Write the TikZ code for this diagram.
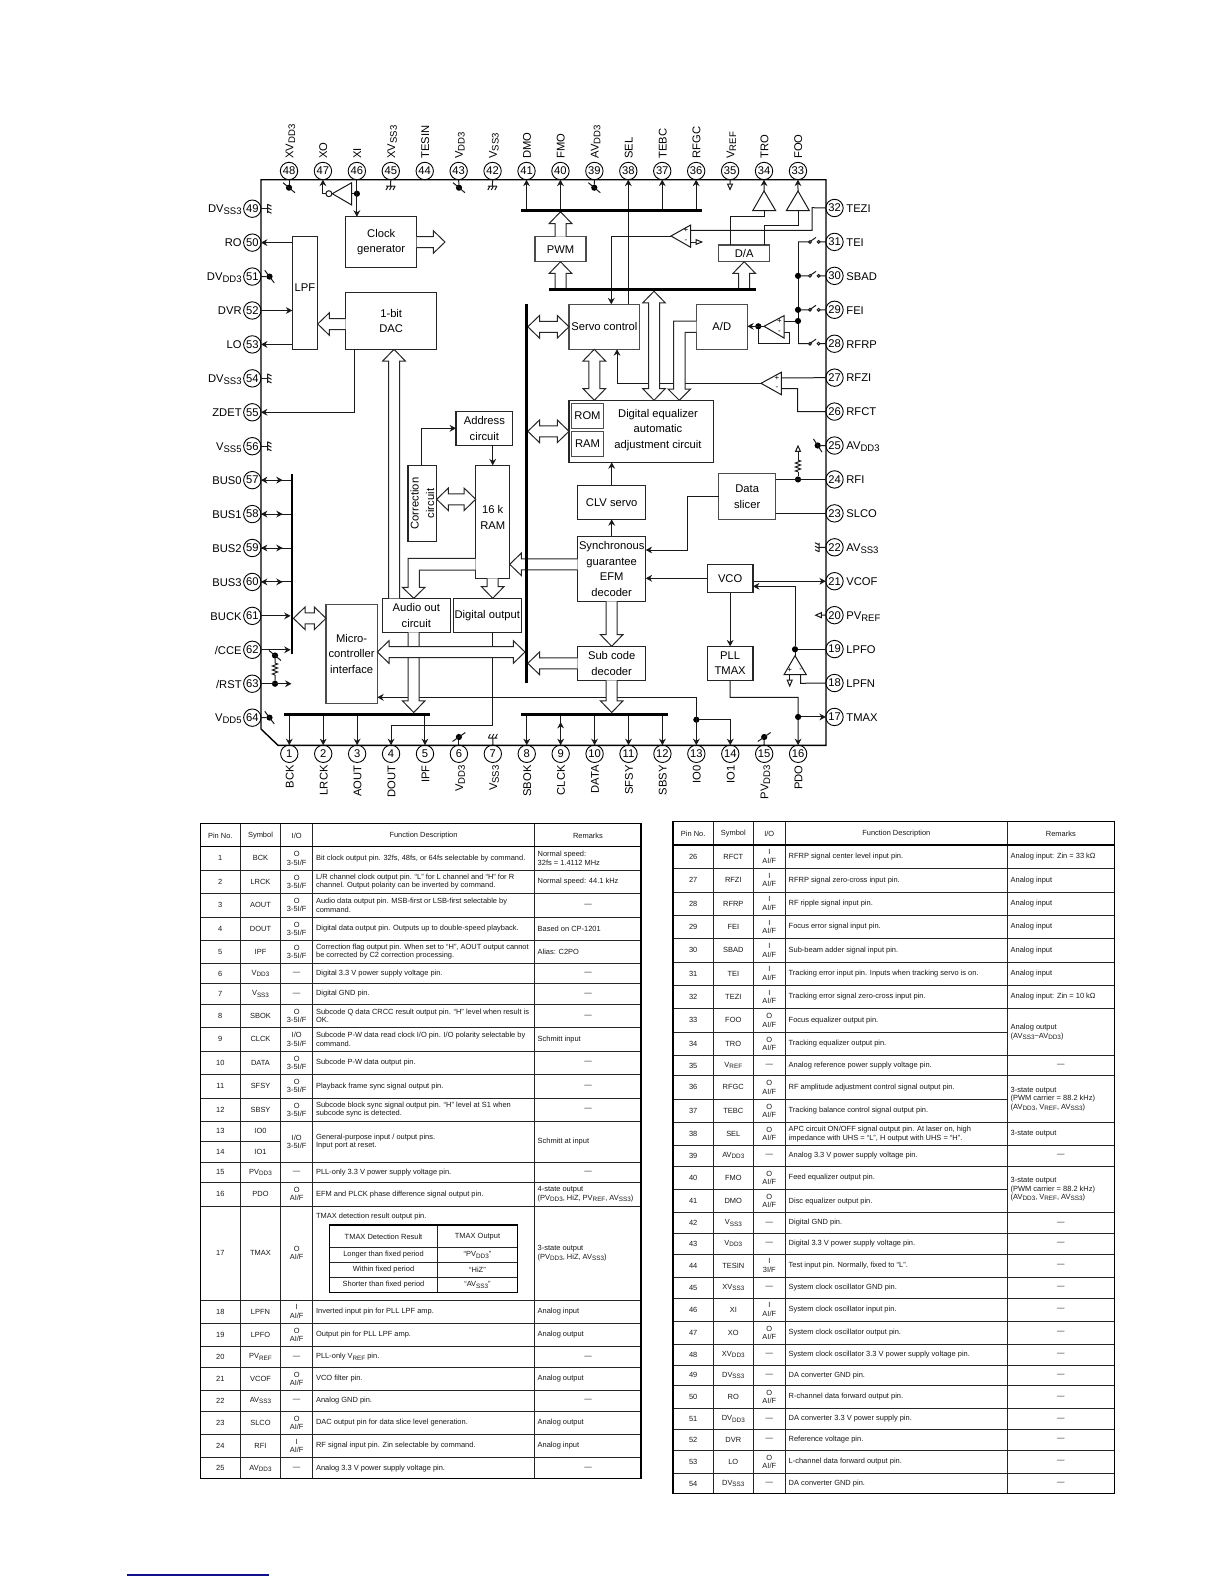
\documentclass[tikz,border=0pt]{standalone}
\usepackage{fontspec}
\setmainfont{Liberation Sans}
\usetikzlibrary{arrows.meta,calc}
\pgfdeclarelayer{fg}
\pgfsetlayers{main,fg}
\newcommand\blkf{\fontsize{5.6}{7.75}\selectfont}
\newcommand\tabf{\fontsize{3.73}{4.2}\selectfont}
\newcommand\sbs[1]{\raisebox{-0.3ex}{\scalebox{.85}{#1}}}
\def\fw{2.75pt}\def\fh{5.65pt}\def\fl{5.85pt}
\tikzset{
 >={Stealth[length=3.2pt,width=3.4pt]},
 wire/.style={line width=.5pt,black!90},
 blk/.style={draw=black!85,line width=.55pt,fill=white,inner sep=0pt,outer sep=0pt,align=center,font=\blkf},
 busn/.style={fill=black,inner sep=0pt,outer sep=0pt},
 fat/.style={draw=black!85,line width=.5pt,fill=white},
 pin/.style={draw,circle,line width=.45pt,inner sep=0pt,outer sep=0pt,minimum size=8.7pt,font=\blkf,fill=white},
 lab/.style={inner sep=0pt,font=\blkf},
 jn/.style={circle,fill=black,inner sep=0pt,outer sep=0pt,minimum size=3.1pt},
 sgn/.style={inner sep=0pt,font=\fontsize{4}{4}\selectfont},
 tgrid/.style={line width=.5pt,black!85},
 tc/.style={inner sep=0pt,font=\tabf,align=center,text=black!90},
 tl/.style={inner sep=0pt,font=\tabf,align=left,anchor=west,text=black!90},
}
\newcommand\blk[7][]{\node[blk,minimum width={(#5-#3)*0.5pt},minimum height={(#6-#4)*0.5pt},#1] (#2) at ({(#3+#5)/2},{(#4+#6)/2}) {#7};}
\newcommand\bus[5]{\node[busn,minimum width={(#4-#2)*0.5pt},minimum height={(#5-#3)*0.5pt}] (#1) at ({(#2+#4)/2},{(#3+#5)/2}) {};}
\newcommand\fatS[2]{\draw[fat] let \p1=(#1),\p2=(#2),\n1={atan2(\y2-\y1,\x2-\x1)} in
 ($(\p1)+(\n1+90:\fw)$) -- ($(\p2)+(\n1+180:\fl)+(\n1+90:\fw)$) -- ($(\p2)+(\n1+180:\fl)+(\n1+90:\fh)$) -- (\p2)
 -- ($(\p2)+(\n1+180:\fl)+(\n1-90:\fh)$) -- ($(\p2)+(\n1+180:\fl)+(\n1-90:\fw)$) -- ($(\p1)+(\n1-90:\fw)$);}
\newcommand\fatD[2]{\draw[fat] let \p1=(#1),\p2=(#2),\n1={atan2(\y2-\y1,\x2-\x1)} in
 (\p1) -- ($(\p1)+(\n1:\fl)+(\n1+90:\fh)$) -- ($(\p1)+(\n1:\fl)+(\n1+90:\fw)$)
 -- ($(\p2)+(\n1+180:\fl)+(\n1+90:\fw)$) -- ($(\p2)+(\n1+180:\fl)+(\n1+90:\fh)$) -- (\p2)
 -- ($(\p2)+(\n1+180:\fl)+(\n1-90:\fh)$) -- ($(\p2)+(\n1+180:\fl)+(\n1-90:\fw)$)
 -- ($(\p1)+(\n1:\fl)+(\n1-90:\fw)$) -- ($(\p1)+(\n1:\fl)+(\n1-90:\fh)$) -- cycle;}
\newcommand\pwr[4]{\node[jn] (#1) at (#2,#3) {}; \draw[wire] (#1)+(#4:3.9pt) -- +(#4+180:3.9pt);}
\newcommand\gndm[3]{\begin{scope}[shift={(#1,#2)},rotate=#3]
 \draw[wire] (-4.5,0) -- (4.5,0) (-2.5,0) -- (-4.5,4) (1,0) -- (-1,4) (4.5,0) -- (2.5,4);\end{scope}}
\newcommand\resv[3]{\draw[wire] (#1,#2) -- ++(2.6,1) -- ++(-5.2,2) -- ++(5.2,2) -- ++(-5.2,2) -- ++(5.2,2) -- ++(-5.2,2) -- (#1,#3);}
\newcommand\swt[1]{\draw[wire] (p#1 -| 798,0) -- (p#1 -| 809,0) (p#1 -| 809.5,0) -- ++(6.5,-4.5) (p#1 -| 819.6,0) -- (p#1.west);
 \draw[wire,fill=white] (p#1 -| 810,0) circle (.7pt) (p#1 -| 818.6,0) circle (.7pt);}
\newcommand\tr[7]{\def\ya{#1}\def\yb{#2}\def\pn{#3}
 \node[tc] (n#3) at ({\tcn},{(#1+#2)/2}) {#3};
 \node[tc] (s#3) at ({\tcs},{(#1+#2)/2}) {#4};
 \node[tc] (i#3) at ({\tci},{(#1+#2)/2}) {#5};
 \node[tl] (f#3) at ({\tcf},{(#1+#2)/2}) {#6};
 #7}
\newcommand\rl[1]{\node[tl] (r\pn) at ({\tcr},{(\ya+\yb)/2}) {#1};}
\newcommand\rd{\node[tc] (r\pn) at ({\tcd},{(\ya+\yb)/2}) {—};}
\newcommand\rmrg[4]{\node[tl] (#1) at ({\tcr},{(#2+#3)/2}) {#4};}
\def\IOa{O\\3-5I/F}
\def\IOb{O\\AI/F}
\def\IOc{I\\AI/F}
\begin{document}
\begin{tikzpicture}[x=.5pt,y=-.5pt]
\useasboundingbox (0,0) rectangle (1224,1584);
\fill[white] (0,0) rectangle (1224,1584);

%% ---------- pins ----------
\foreach \n/\t in {48/XV\sbs{DD3},47/XO,46/XI,45/XV\sbs{SS3},44/TESIN,43/V\sbs{DD3},42/V\sbs{SS3},41/DMO,40/FMO,39/AV\sbs{DD3},38/SEL,37/TEBC,36/RFGC,35/V\sbs{REF},34/TRO,33/FOO}{
 \node[pin] (p\n) at ({289+33.93*(48-\n)},171) {\n};
 \node[lab,rotate=90,anchor=mid west] (l\n) at ({288+33.93*(48-\n)},159) {\t};
}
\foreach \n/\t in {49/DV\sbs{SS3},50/RO,51/DV\sbs{DD3},52/DVR,53/LO,54/DV\sbs{SS3},55/ZDET,56/V\sbs{SS5},57/BUS0,58/BUS1,59/BUS2,60/BUS3,61/BUCK,62/{/CCE},63/{/RST},64/V\sbs{DD5}}{
 \node[pin] (p\n) at (252.3,{208.7+33.93*(\n-49)}) {\n};
 \node[lab,anchor=mid east] (l\n) at (242,{207.7+33.93*(\n-49)}) {\t};
}
\foreach \n/\t in {32/TEZI,31/TEI,30/SBAD,29/FEI,28/RFRP,27/RFZI,26/RFCT,25/AV\sbs{DD3},24/RFI,23/SLCO,22/AV\sbs{SS3},21/VCOF,20/PV\sbs{REF},19/LPFO,18/LPFN,17/TMAX}{
 \node[pin] (p\n) at (834.5,{208+33.93*(32-\n)}) {\n};
 \node[lab,anchor=mid west] (l\n) at (846,{207+33.93*(32-\n)}) {\t};
}
\foreach \n/\t in {1/BCK,2/LRCK,3/AOUT,4/DOUT,5/IPF,6/V\sbs{DD3},7/V\sbs{SS3},8/SBOK,9/CLCK,10/DATA,11/SFSY,12/SBSY,13/IO0,14/IO1,15/PV\sbs{DD3},16/PDO}{
 \node[pin] (p\n) at ({289.3+33.92*(\n-1)},753.8) {\n};
 \node[lab,rotate=90,anchor=mid east] (l\n) at ({288.3+33.92*(\n-1)},765) {\t};
}
\draw[line width=.7pt] (278,745.3) -- (826,745.3) -- (826,179.7) -- (261,179.7) -- (261,729) -- cycle;

%% ---------- blocks ----------
\blk{clk}{345.7}{216.7}{416.7}{267.3}{Clock\\generator}
\blk{lpf}{292.3}{236.3}{317.7}{349.3}{}
\node[lab] (lpft) at (305,287.7) {LPF};
\blk{dac}{345.7}{292.7}{436.7}{349.3}{1-bit\\DAC}
\blk{addr}{456}{411.7}{512.7}{445.3}{Address\\circuit}
\blk{corr}{408}{465.3}{436.7}{541.7}{}
\node[lab,rotate=90,align=center] (corrt) at (422.3,503.5) {Correction\\circuit};
\blk{ram}{475.7}{465.3}{509.7}{578.3}{}
\node[lab,align=center] (ramt) at (492.7,517.3) {16 k\\RAM};
\blk{aud}{382.3}{598.3}{450.3}{632.3}{Audio out\\circuit}
\blk{dig}{453.3}{598.3}{521.3}{632.3}{Digital output}
\blk[draw=black!70]{mic}{326}{604.3}{377.3}{703.3}{Micro-\\controller\\interface}
\blk[draw=black!70]{pwm}{535}{236.7}{586}{261.7}{PWM}
\blk[draw=black!70]{da}{718.7}{245}{769.7}{261.7}{D/A}
\blk[draw=black!70]{servo}{569}{304.3}{639.7}{349.3}{Servo control}
\blk[draw=black!70]{ad}{696.3}{304.3}{747.3}{349.3}{A/D}
\blk{eq}{569}{400.3}{713.3}{462.3}{}
\blk[draw=black!70,line width=.7pt]{rom}{571.7}{403.3}{603.3}{428.3}{ROM}
\blk[draw=black!70,line width=.7pt]{rm}{571.7}{431.3}{603.3}{456.7}{RAM}
\node[lab,align=center] (eqt) at (658,430) {Digital equalizer\\automatic\\adjustment circuit};
\blk{clv}{577.7}{485.3}{645.7}{519.3}{CLV servo}
\blk{sync}{577.7}{536.3}{645.7}{601.3}{Synchronous\\guarantee\\EFM\\decoder}
\blk{sub}{577.7}{646.3}{645.7}{680.3}{Sub code\\decoder}
\blk[draw=black!70]{slicer}{718.7}{473.7}{775.7}{519.3}{Data\\slicer}
\blk{vco}{707.3}{564.3}{753}{592.7}{VCO}
\blk{pll}{707.3}{646.3}{753}{680.3}{PLL\\TMAX}

%% ---------- buses (top layer) ----------
\begin{pgfonlayer}{fg}
\bus{mbus}{525}{304.3}{527.8}{683}
\bus{lbus}{290.6}{474}{293.4}{654.3}
\bus{tbus}{521}{208.8}{702}{211.8}
\bus{sbus}{549.3}{288.2}{755.7}{291.2}
\bus{bl}{284}{712.5}{430.3}{715.5}
\bus{br}{521}{712.5}{667.7}{715.5}
\end{pgfonlayer}

%% ---------- amplifiers ----------
\coordinate (a1t) at (671,236);
\draw[wire] (a1t) -- (690.7,225) -- (690.7,247.3) -- cycle;
\node[sgn] (a1p) at (686,230.5) {+};
\node[sgn] (a1m) at (686,241.5) {-};
\coordinate (a2t) at (764,326.3);
\draw[wire] (a2t) -- (784,315.7) -- (784,338) -- cycle;
\node[sgn] (a2p) at (779.5,321) {+};
\node[sgn] (a2m) at (779.5,332) {-};
\coordinate (a3t) at (761,383.3);
\draw[wire] (a3t) -- (781.3,372.3) -- (781.3,394.7) -- cycle;
\node[sgn] (a3p) at (777,378) {+};
\node[sgn] (a3m) at (777,388.7) {-};
\coordinate (a4t) at (795,655.7);
\draw[wire] (a4t) -- (784,674.7) -- (806.3,674.7) -- cycle;
\node[sgn] (a4p) at (789.7,670) {+};
\node[sgn] (a4m) at (800.7,670) {-};
\coordinate (tro) at (764,191); \coordinate (foo) at (798,191);
\coordinate (trob) at (764,210.7); \coordinate (foob) at (798,210.7);
\draw[wire] (tro) -- (752.7,210.7) -- (775.7,210.7) -- cycle;
\draw[wire] (foo) -- (786.3,210.7) -- (809.3,210.7) -- cycle;

%% ---------- power / ground / reference symbols ----------
\pwr{pw48}{289}{187.7}{140}  \draw[wire] (p48.south) -- (pw48);
\pwr{pw43}{459}{187.7}{140}  \draw[wire] (p43.south) -- (pw43);
\pwr{pw39}{594.3}{187.7}{140}\draw[wire] (p39.south) -- (pw39);
\pwr{pw51}{269.5}{276.6}{127}\draw[wire] (p51.east) -- (pw51);
\pwr{pw64}{269.5}{717.6}{127}\draw[wire] (p64.east) -- (pw64);
\pwr{pw25}{817.7}{445.5}{123}\draw[wire] (p25.west) -- (pw25);
\pwr{pw6}{458.9}{737}{35}    \draw[wire] (p6.north) -- (pw6);
\pwr{pw15}{764.2}{737}{35}   \draw[wire] (p15.north) -- (pw15);
\coordinate (g45) at (390.6,186); \draw[wire] (p45.south) -- (g45); \gndm{390.6}{186}{0}
\coordinate (g42) at (492.4,186); \draw[wire] (p42.south) -- (g42); \gndm{492.4}{186}{0}
\coordinate (g7)  at (492.8,738); \draw[wire] (p7.north) -- (g7);   \gndm{492.8}{738}{180}
\foreach \n in {49,54,56}{\coordinate (g\n) at (p\n -| 267.5,0); \draw[wire] (p\n.east) -- (g\n);
 \begin{scope}[shift={(g\n)},rotate=90]\draw[wire] (-4.5,0) -- (4.5,0) (-2.5,0) -- (-4.5,4) (1,0) -- (-1,4) (4.5,0) -- (2.5,4);\end{scope}}
\coordinate (g22) at (819,547.3); \draw[wire] (p22.west) -- (g22); \gndm{819}{547.3}{-90}
% hollow reference triangles
\draw[wire] (p35.south) -- (730,184); \draw[wire] (727.5,184) -- (732.5,184) -- (730,189.5) -- cycle;
\draw[wire] (p20.west) -- (821.3,615.2); \draw[wire] (821.3,612.7) -- (821.3,617.7) -- (815.7,615.2) -- cycle;

%% ---------- thin connectors ----------
% clock / inverter
\node[jn] (dxi) at (356.9,193.7) {};
\draw[wire,->] (p46.south) -- (p46 |- clk.north);
\draw[wire,fill=white] (351.7,182.7) -- (351.7,205) -- (332.3,193.7) -- cycle;
\draw[wire] (351.7,193.7) -- (dxi);
\draw[wire,fill=white] (328.9,193.7) circle (1.5pt);
\draw[wire,->] (325.9,193.7) -- (p47 |- 0,193.7) -- (p47.south);
% LPF
\draw[wire,->] (lpf.west |- p50) -- (p50.east);
\draw[wire,->] (p52.east) -- (lpf.west |- p52);
\draw[wire,->] (lpf.west |- p53) -- (p53.east);
\draw[wire,->] (dac.south -| 354.3,0) -- (p55 -| 354.3,0) -- (p55.east);
% left bus
\foreach \n in {57,58,59,60}{
 \draw[wire,->] (p\n -| lbus) -- (p\n.east);
 \draw[wire,->] (p\n.east) -- (p\n -| 282.7,0);
}
\draw[wire,->] (p61.east) -- (p61 -| lbus.west);
\draw[wire,->] (p62.east) -- (p62 -| lbus.west);
\node[jn] (dr1) at (275,655.5) {};
\node[jn] (dr2) at (p63 -| 275,0) {};
\draw[wire,->] (p63.east) -- (p63 -| 291.5,0);
\resv{275}{663}{675}
\draw[wire] (dr1) -- (275,663) (275,675) -- (dr2) (dr1)+(140:3.9pt) -- +(-40:3.9pt);
% address / ram
\draw[wire,->] (addr.south -| ram) -- (ram.north);
\draw[wire,->] (corr.north -| 421.7,0) -- (421.7,428.3) -- (addr.west |- 0,428.3);
% servo amplifier top-side
\draw[wire,->] (a1t) -- (611.3,236) -- (servo.north -| 611.3,0);
\draw[wire,->] (servo.north -| p38) -- (p38.south);
\draw[wire] (690.7,230.3) -- (812,230.3) -- (812,207.7) -- (p32.west);
\draw[wire] (690.7,242) -- (696,242);
\draw[wire] (696,239.6) -- (696,244.4) -- (701.8,242) -- cycle;
\foreach \n in {41,40,37,36}{\draw[wire,->] (tbus -| p\n) -- (p\n.south);}
\draw[wire,->] (tro) -- (p34.south);
\draw[wire,->] (foo) -- (p33.south);
\draw[wire] (da.north -| 730,0) -- (730,216.7) -- (764,216.7) -- (trob);
\draw[wire] (da.north -| 764,0) -- (764,225) -- (798,225) -- (foob);
% switches
\swt{31}\swt{30}\swt{29}\swt{28}
\draw[wire] (p31 -| 798,0) -- (p28 -| 798,0);
\node[jn] (ds30) at (p30 -| 798,0) {};
\node[jn] (ds29) at (p29 -| 798,0) {};
\node[jn] (dsa) at (798,321) {};
\draw[wire] (784,321) -- (dsa);
\draw[wire] (784,332.3) -- (789.3,332.3) -- (789.3,343.7) -- (758.3,343.7) -- (758.3,326.3);
\node[jn] (dad) at (758.3,326.3) {};
\draw[wire,->] (a2t) -- (ad.east |- a2t);
% RFZI / RFCT amp
\draw[wire,->] (a3t) -- (617,383.3) -- (servo.south -| 617,0);
\draw[wire] (781.3,378) -- (p27.west);
\draw[wire] (781.3,388.7) -- (797.7,388.7) -- (797.7,411.7) -- (p26.west);
% CLV etc
\draw[wire,->] (sync.north -| clv) -- (clv.south);
\draw[wire,->] (clv.north) -- (eq.south -| clv);
\draw[wire,->] (slicer.west |- 0,496.3) -- (687.7,496.3) -- (687.7,550) -- (sync.east |- 0,550);
\node[jn] (drf) at (p24 -| 798,0) {};
\draw[wire] (slicer.east |- p24) -- (p24.west);
\draw[wire] (slicer.east |- p23) -- (p23.west);
\draw[wire] (drf) -- (798,471.7) (798,460) -- (798,451.3);
\resv{798}{460}{471.7}
\draw[wire] (795.6,451.3) -- (800.4,451.3) -- (798,446) -- cycle;
\draw[wire,->] (vco.west |- 0,578.3) -- (sync.east |- 0,578.3);
\draw[wire,->] (vco.east |- p21) -- (p21.west);
\node[jn] (dlp) at (795,649.3) {};
\draw[wire,->] (dlp) -- (795,586.3) -- (vco.east |- 0,586.3);
\draw[wire] (dlp) -- (p19.west |- dlp);
\draw[wire] (dlp) -- (a4t);
\draw[wire,->] (vco.south) -- (pll.north);
\draw[wire] (789.7,674.7) -- (789.7,680);
\draw[wire] (787.2,680) -- (792.2,680) -- (789.7,686) -- cycle;
\draw[wire] (800.7,674.7) -- (800.7,683.3) -- (p18.west);
\draw[wire,->] (pll.south) -- (730,697.3) -- (p16 |- 0,697.3) -- (p16.north);
\node[jn] (dtm) at (p16 |- p17) {};
\draw[wire,->] (dtm) -- (p17.west);
% bottom buses
\foreach \n in {1,2,3,5}{\draw[wire,->] (p\n |- bl) -- (p\n.north);}
\foreach \n in {8,10,11,12}{\draw[wire,->] (p\n |- br) -- (p\n.north);}
\draw[wire,->] (p9 |- br) -- (p9.north);
\draw[wire,->] (p9.north) -- (p9 |- 0,722);
% IO lines
\node[jn] (dio) at (p13 |- 0,719.7) {};
\draw[wire,->] (p13 |- 0,697.3) -- (p13.north);
\draw[wire,->] (dio) -- (p14 |- dio) -- (p14.north);
\draw[wire,->] (p13 |- 0,697.3) -- (mic.east |- 0,697.3);
% digital output to pin 4
\draw[wire,->] (dig.south -| 492.7,0) -- (492.7,725.7) -- (p4 |- 0,725.7) -- (p4.north);

%% ---------- hollow arrows ----------
\fatS{clk.east}{445,242}
\fatS{dac.west |- 0,324}{lpf.east |- 0,324}
\fatS{pwm.north}{pwm |- tbus.south}
\fatS{sbus.north -| pwm}{pwm.south}
\fatS{sbus.north -| da}{da.south}
\fatD{mbus.east |- servo}{servo.west}
\fatD{mbus.east |- 0,431.3}{eq.west |- 0,431.3}
\fatD{servo.south -| 594.3,0}{eq.north -| 594.3,0}
\fatD{sbus.south -| 654,0}{eq.north -| 654,0}
\draw[fat] (ad.west |- 0,321) -- (673.7,321) -- (673.7,389) -- (668,389) -- (679.3,400.3) -- (690.6,389) -- (685,389) -- (685,332.3) -- (ad.west |- 0,332.3);
\fatS{aud.north -| 394,0}{dac.south -| 394,0}
\fatD{corr.east |- 0,499.3}{ram.west |- 0,499.3}
\draw[fat] (ram.west |- 0,558.3) -- (408,558.3) -- (408,587.3) -- (402.4,587.3) -- (413.7,598.3) -- (425,587.3) -- (419.3,587.3) -- (419.3,570) -- (ram.west |- 0,570);
\fatS{ram.south}{ram |- dig.north}
\fatS{sync.west |- 0,564.3}{ram.east |- 0,564.3}
\fatS{aud.south -| 413.7,0}{bl.north -| 413.7,0}
\fatD{mic.east |- 0,652}{mbus.west |- 0,652}
\fatD{lbus.east |- 0,618.3}{mic.west |- 0,618.3}
\fatS{sync.south}{sub.north}
\fatS{sub.west |- 0,663.3}{mbus.east |- 0,663.3}
\fatS{sub.south}{sub |- br.north}

%% ---------- left table ----------
\foreach \y in {823.3,846.7,870,893.3,917,940.3,963.3,983.7,1004.3,1027.7,1051,1074.3,1098,1121.3,1162.3,1182.3,1206,1300,1323.3,1346.7,1367.3,1390.7,1411,1434.3,1457.7,1478.7}{
 \draw[tgrid] (200.3,\y) -- (641,\y);}
\draw[tgrid] (200.3,1141.3) -- (280.7,1141.3);
\foreach \x in {200.3,240.3,280.7,312.7,534.3,641}{\draw[tgrid] (\x,823.3) -- (\x,1478.7);}
\draw[line width=.6pt] (200.3,823.3) rectangle (641,1478.7);
\draw[line width=.6pt] (200.3,846.7) -- (641,846.7);
\def\tcn{220.3}\def\tcs{260.5}\def\tci{296.7}\def\tcf{315.7}\def\tcr{537.3}\def\tcd{588}
\node[tc] (hL1) at (220.3,835.5) {Pin No.};
\node[tc] (hL2) at (260.5,835.5) {Symbol};
\node[tc] (hL3) at (296.7,835.5) {I/O};
\node[tc] (hL4) at (423.5,835.5) {Function Description};
\node[tc] (hL5) at (588,835.5) {Remarks};
\tr{846.7}{870}{1}{BCK}{\IOa}{Bit clock output pin. 32fs, 48fs, or 64fs selectable by command.}{\rl{Normal speed:\\32fs = 1.4112 MHz}}
\tr{870}{893.3}{2}{LRCK}{\IOa}{L/R channel clock output pin. “L” for L channel and “H” for R\\channel. Output polarity can be inverted by command.}{\rl{Normal speed: 44.1 kHz}}
\tr{893.3}{917}{3}{AOUT}{\IOa}{Audio data output pin. MSB-first or LSB-first selectable by\\command.}{\rd}
\tr{917}{940.3}{4}{DOUT}{\IOa}{Digital data output pin. Outputs up to double-speed playback.}{\rl{Based on CP-1201}}
\tr{940.3}{963.3}{5}{IPF}{\IOa}{Correction flag output pin. When set to “H”, AOUT output cannot\\be corrected by C2 correction processing.}{\rl{Alias: C2PO}}
\tr{963.3}{983.7}{6}{V\sbs{DD3}}{—}{Digital 3.3 V power supply voltage pin.}{\rd}
\tr{983.7}{1004.3}{7}{V\sbs{SS3}}{—}{Digital GND pin.}{\rd}
\tr{1004.3}{1027.7}{8}{SBOK}{\IOa}{Subcode Q data CRCC result output pin. “H” level when result is\\OK.}{\rd}
\tr{1027.7}{1051}{9}{CLCK}{I/O\\3-5I/F}{Subcode P-W data read clock I/O pin. I/O polarity selectable by\\command.}{\rl{Schmitt input}}
\tr{1051}{1074.3}{10}{DATA}{\IOa}{Subcode P-W data output pin.}{\rd}
\tr{1074.3}{1098}{11}{SFSY}{\IOa}{Playback frame sync signal output pin.}{\rd}
\tr{1098}{1121.3}{12}{SBSY}{\IOa}{Subcode block sync signal output pin. “H” level at S1 when\\subcode sync is detected.}{\rd}
\node[tc] (n13) at (\tcn,1131.3) {13};
\node[tc] (s13) at (\tcs,1131.3) {IO0};
\node[tc] (n14) at (\tcn,1152) {14};
\node[tc] (s14) at (\tcs,1152) {IO1};
\node[tc] (i13) at (\tci,1141.8) {I/O\\3-5I/F};
\node[tl] (f13) at (\tcf,1141.8) {General-purpose input / output pins.\\Input port at reset.};
\node[tl] (r13) at (\tcr,1141.8) {Schmitt at input};
\tr{1162.3}{1182.3}{15}{PV\sbs{DD3}}{—}{PLL-only 3.3 V power supply voltage pin.}{\rd}
\tr{1182.3}{1206}{16}{PDO}{\IOb}{EFM and PLCK phase difference signal output pin.}{\rl{4-state output\\(PV\sbs{DD3}, HiZ, PV\sbs{REF}, AV\sbs{SS3})}}
\tr{1206}{1300}{17}{TMAX}{\IOb}{}{\rl{3-state output\\(PV\sbs{DD3}, HiZ, AV\sbs{SS3})}}
\node[tl] (f17t) at (\tcf,1217) {TMAX detection result output pin.};
\foreach \y in {1247.3,1262.3,1277.3}{\draw[tgrid] (329.7,\y) -- (517.7,\y);}
\draw[tgrid] (437.3,1225) -- (437.3,1292.3);
\draw[line width=.7pt] (329.7,1225) rectangle (517.7,1292.3);
\node[tc] (m1) at (383.5,1237) {TMAX Detection Result};
\node[tc] (m2) at (477.5,1237) {TMAX Output};
\node[tc] (m3) at (383.5,1255) {Longer than fixed period};
\node[tc] (m4) at (477.5,1255) {“PV\sbs{DD3}”};
\node[tc] (m5) at (383.5,1270) {Within fixed period};
\node[tc] (m6) at (477.5,1270) {“HiZ”};
\node[tc] (m7) at (383.5,1285) {Shorter than fixed period};
\node[tc] (m8) at (477.5,1285) {“AV\sbs{SS3}”};
\tr{1300}{1323.3}{18}{LPFN}{\IOc}{Inverted input pin for PLL LPF amp.}{\rl{Analog input}}
\tr{1323.3}{1346.7}{19}{LPFO}{\IOb}{Output pin for PLL LPF amp.}{\rl{Analog output}}
\tr{1346.7}{1367.3}{20}{PV\sbs{REF}}{—}{PLL-only V\sbs{REF} pin.}{\rd}
\tr{1367.3}{1390.7}{21}{VCOF}{\IOb}{VCO filter pin.}{\rl{Analog output}}
\tr{1390.7}{1411}{22}{AV\sbs{SS3}}{—}{Analog GND pin.}{\rd}
\tr{1411}{1434.3}{23}{SLCO}{\IOb}{DAC output pin for data slice level generation.}{\rl{Analog output}}
\tr{1434.3}{1457.7}{24}{RFI}{\IOc}{RF signal input pin. Zin selectable by command.}{\rl{Analog input}}
\tr{1457.7}{1478.7}{25}{AV\sbs{DD3}}{—}{Analog 3.3 V power supply voltage pin.}{\rd}

%% ---------- right table ----------
\foreach \y in {821.7,845,868.3,892,915.3,938.7,962,985.3,1008.7,1055.3,1075.7,1122.3,1145.7,1166,1212.7,1233.3,1254,1277.3,1298,1321.3,1344.3,1365.3,1385.3,1408.7,1429.3,1450,1473.3,1493.7}{
 \draw[tgrid] (673,\y) -- (1114.3,\y);}
\foreach \y in {1032,1099,1189.7}{\draw[tgrid] (673,\y) -- (1007.3,\y);}
\foreach \x in {673,713.3,753.3,785.3,1007.3,1114.3}{\draw[tgrid] (\x,821.7) -- (\x,1493.7);}
\draw[line width=.6pt] (673,821.7) rectangle (1114.3,1493.7);
\draw[line width=.6pt] (673,845) -- (1114.3,845);
\def\tcn{693.2}\def\tcs{733.3}\def\tci{769.3}\def\tcf{788.3}\def\tcr{1010.3}\def\tcd{1060.8}
\node[tc] (hR1) at (693.2,834) {Pin No.};
\node[tc] (hR2) at (733.3,834) {Symbol};
\node[tc] (hR3) at (769.3,834) {I/O};
\node[tc] (hR4) at (896.3,834) {Function Description};
\node[tc] (hR5) at (1060.8,834) {Remarks};
\tr{845}{868.3}{26}{RFCT}{\IOc}{RFRP signal center level input pin.}{\rl{Analog input: Zin = 33 kΩ}}
\tr{868.3}{892}{27}{RFZI}{\IOc}{RFRP signal zero-cross input pin.}{\rl{Analog input}}
\tr{892}{915.3}{28}{RFRP}{\IOc}{RF ripple signal input pin.}{\rl{Analog input}}
\tr{915.3}{938.7}{29}{FEI}{\IOc}{Focus error signal input pin.}{\rl{Analog input}}
\tr{938.7}{962}{30}{SBAD}{\IOc}{Sub-beam adder signal input pin.}{\rl{Analog input}}
\tr{962}{985.3}{31}{TEI}{\IOc}{Tracking error input pin. Inputs when tracking servo is on.}{\rl{Analog input}}
\tr{985.3}{1008.7}{32}{TEZI}{\IOc}{Tracking error signal zero-cross input pin.}{\rl{Analog input: Zin = 10 kΩ}}
\tr{1008.7}{1032}{33}{FOO}{\IOb}{Focus equalizer output pin.}{}
\tr{1032}{1055.3}{34}{TRO}{\IOb}{Tracking equalizer output pin.}{}
\rmrg{r33}{1008.7}{1055.3}{Analog output\\(AV\sbs{SS3}\textasciitilde AV\sbs{DD3})}
\tr{1055.3}{1075.7}{35}{V\sbs{REF}}{—}{Analog reference power supply voltage pin.}{\rd}
\tr{1075.7}{1099}{36}{RFGC}{\IOb}{RF amplitude adjustment control signal output pin.}{}
\tr{1099}{1122.3}{37}{TEBC}{\IOb}{Tracking balance control signal output pin.}{}
\rmrg{r36}{1075.7}{1122.3}{3-state output\\(PWM carrier = 88.2 kHz)\\(AV\sbs{DD3}, V\sbs{REF}, AV\sbs{SS3})}
\tr{1122.3}{1145.7}{38}{SEL}{\IOb}{APC circuit ON/OFF signal output pin. At laser on, high\\impedance with UHS = “L”, H output with UHS = “H”.}{\rl{3-state output}}
\tr{1145.7}{1166}{39}{AV\sbs{DD3}}{—}{Analog 3.3 V power supply voltage pin.}{\rd}
\tr{1166}{1189.7}{40}{FMO}{\IOb}{Feed equalizer output pin.}{}
\tr{1189.7}{1212.7}{41}{DMO}{\IOb}{Disc equalizer output pin.}{}
\rmrg{r40}{1166}{1212.7}{3-state output\\(PWM carrier = 88.2 kHz)\\(AV\sbs{DD3}, V\sbs{REF}, AV\sbs{SS3})}
\tr{1212.7}{1233.3}{42}{V\sbs{SS3}}{—}{Digital GND pin.}{\rd}
\tr{1233.3}{1254}{43}{V\sbs{DD3}}{—}{Digital 3.3 V power supply voltage pin.}{\rd}
\tr{1254}{1277.3}{44}{TESIN}{I\\3I/F}{Test input pin. Normally, fixed to “L”.}{\rd}
\tr{1277.3}{1298}{45}{XV\sbs{SS3}}{—}{System clock oscillator GND pin.}{\rd}
\tr{1298}{1321.3}{46}{XI}{\IOc}{System clock oscillator input pin.}{\rd}
\tr{1321.3}{1344.3}{47}{XO}{\IOb}{System clock oscillator output pin.}{\rd}
\tr{1344.3}{1365.3}{48}{XV\sbs{DD3}}{—}{System clock oscillator 3.3 V power supply voltage pin.}{\rd}
\tr{1365.3}{1385.3}{49}{DV\sbs{SS3}}{—}{DA converter GND pin.}{\rd}
\tr{1385.3}{1408.7}{50}{RO}{\IOb}{R-channel data forward output pin.}{\rd}
\tr{1408.7}{1429.3}{51}{DV\sbs{DD3}}{—}{DA converter 3.3 V power supply pin.}{\rd}
\tr{1429.3}{1450}{52}{DVR}{—}{Reference voltage pin.}{\rd}
\tr{1450}{1473.3}{53}{LO}{\IOb}{L-channel data forward output pin.}{\rd}
\tr{1473.3}{1493.7}{54}{DV\sbs{SS3}}{—}{DA converter GND pin.}{\rd}

% footer rule
\draw[line width=.7pt,color={rgb,255:red,16;green,16;blue,140}] (127,1575) -- (269,1575);
\end{tikzpicture}
\end{document}
